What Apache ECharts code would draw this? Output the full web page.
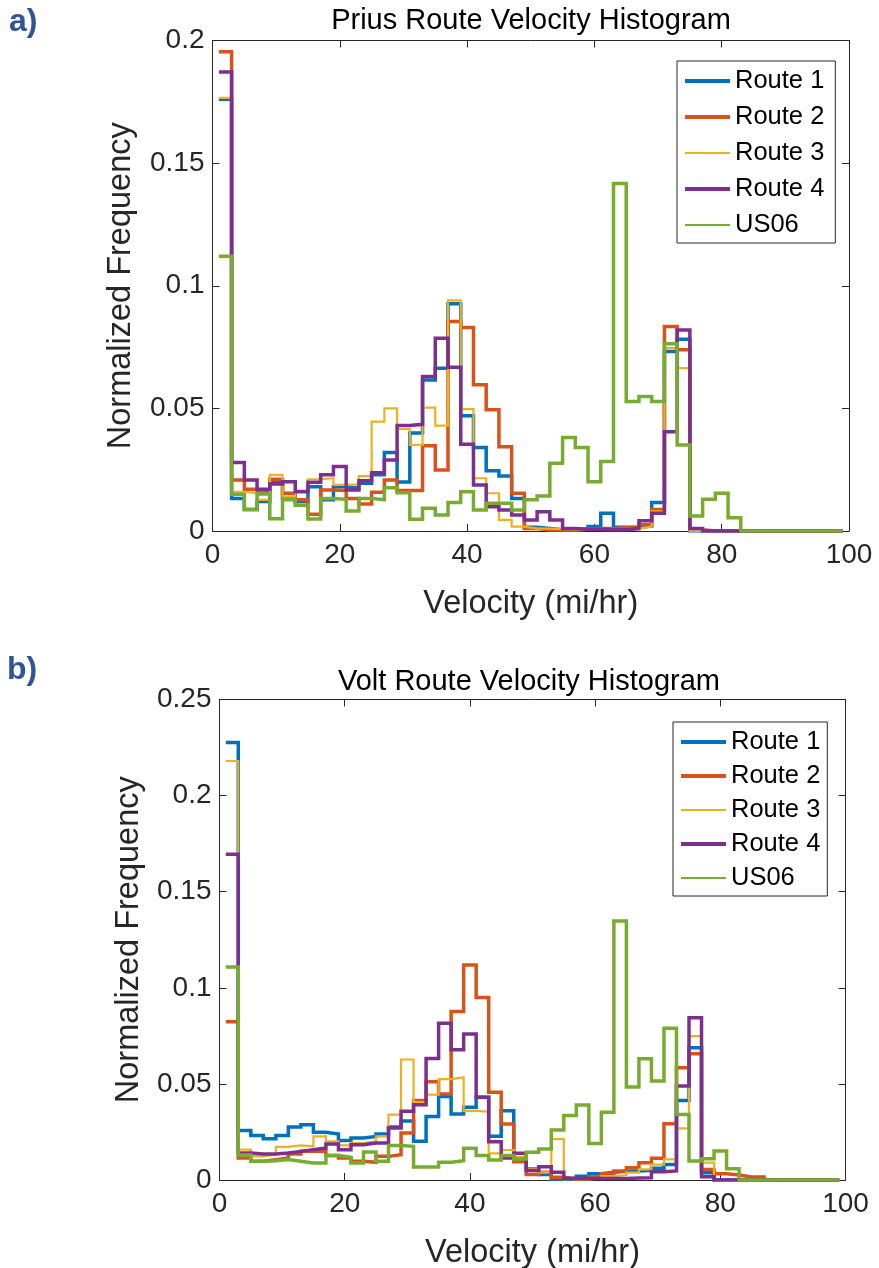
<!DOCTYPE html>
<html>
<head>
<meta charset="utf-8">
<script src="https://cdn.jsdelivr.net/npm/echarts@6/dist/echarts.min.js"></script>
<style>
html,body{margin:0;padding:0;background:#ffffff;}
#c{width:879px;height:1268px;}
</style>
</head>
<body>
<div id="c"></div>
<script>
// ---------- DATA ----------
const binStarts = [1,3,5,7,9,11,13,15,17,19,21,23,25,27,29,31,33,35,37,39,41,43,45,47,49,51,53,55,57,59,61,63,65,67,69,71,73,75,77,79,81,83,85,87,89,91,93,95,97,99];
const seriesNames = ['Route 1','Route 2','Route 3','Route 4','US06'];
const xTicks = [0,20,40,60,80,100];

// Prius (panel a)
const priusRoute1 = [0.176,0.0133,0.0088,0.012,0.0201,0.0133,0.012,0.018,0.0127,0.018,0.0174,0.0195,0.0229,0.032,0.020,0.040,0.0616,0.0664,0.0927,0.047,0.034,0.0246,0.0224,0.0133,0.0015,0.001,0.0005,0.0003,0.0008,0.0018,0.0072,0.0015,0.0015,0.002,0.0116,0.0732,0.0782,0,0,0,0,0,0,0,0,0,0,0,0,0];
const priusRoute2 = [0.1954,0.0208,0.017,0.016,0.0211,0.0154,0.0127,0.0068,0.0167,0.0165,0.0133,0.011,0.0158,0.0208,0.0165,0.0165,0.0348,0.0249,0.0854,0.083,0.0596,0.0494,0.0344,0.0154,0.001,0.0004,0.0004,0.0005,0.0008,0.001,0.001,0.0013,0.0015,0.0025,0.0088,0.0834,0.0739,0.0005,0,0,0,0,0,0,0,0,0,0,0,0];
const priusRoute3 = [0.1766,0.016,0.0154,0.0127,0.0229,0.014,0.0165,0.0211,0.0215,0.0188,0.019,0.0224,0.0446,0.050,0.0416,0.0351,0.0503,0.043,0.094,0.0497,0.0215,0.0154,0.0045,0.0018,0.001,0.001,0.0008,0.0007,0.0008,0.0008,0.0008,0.0008,0.001,0.0018,0.008,0.0746,0.0664,0,0,0,0,0,0,0,0,0,0,0,0,0];
const priusRoute4 = [0.1872,0.0279,0.0208,0.017,0.0192,0.0201,0.016,0.0199,0.0229,0.0263,0.0167,0.0205,0.0238,0.029,0.043,0.0435,0.063,0.0786,0.0668,0.0354,0.0188,0.0099,0.0086,0.0065,0.0045,0.0079,0.0045,0.001,0.0007,0.0007,0.0005,0.0005,0.001,0.0042,0.0072,0.0405,0.082,0.001,0,0,0,0,0,0,0,0,0,0,0,0];
const priusUS06   = [0.112,0.015,0.0088,0.0151,0.005,0.0127,0.0105,0.0049,0.0133,0.0129,0.0082,0.0133,0.0127,0.0176,0.0156,0.0048,0.0093,0.0065,0.0116,0.016,0.0086,0.0113,0.0113,0.0086,0.0127,0.0143,0.0276,0.0381,0.034,0.0201,0.0283,0.1417,0.0528,0.0548,0.0528,0.0763,0.0351,0.0061,0.0129,0.0154,0.0054,0,0,0,0,0,0,0,0,0];

// Volt (panel b)
const voltRoute1 = [0.2276,0.0257,0.0232,0.0215,0.0232,0.0276,0.0288,0.0248,0.0239,0.0205,0.0218,0.0227,0.0239,0.0276,0.0307,0.0201,0.0331,0.0435,0.0343,0.0378,0.043,0.0227,0.036,0.0109,0.0057,0.0028,0.0004,0.0005,0.002,0.0033,0.004,0.0045,0.0047,0.005,0.0061,0.0081,0.0414,0.0688,0.0038,0,0,0,0,0,0,0,0,0,0,0];
const voltRoute2 = [0.0823,0.0114,0.0097,0.0106,0.0114,0.0135,0.0149,0.0149,0.0128,0.0114,0.0097,0.0092,0.0123,0.0132,0.0244,0.0413,0.0511,0.0447,0.0877,0.1118,0.095,0.0456,0.0291,0.0095,0.0028,0.004,0.0014,0.0005,0.0005,0.0016,0.0033,0.0047,0.0064,0.009,0.0113,0.0293,0.0584,0.0657,0.0055,0.0033,0.0026,0.0016,0.0016,0,0,0,0,0,0,0];
const voltRoute3 = [0.218,0.0158,0.0123,0.0132,0.0172,0.018,0.0175,0.0227,0.0201,0.018,0.0192,0.0201,0.0227,0.034,0.0627,0.0405,0.0444,0.0525,0.0534,0.036,0.0355,0.0139,0.0156,0.0121,0.0057,0.004,0.0213,0.0005,0.0003,0.0008,0.002,0.0026,0.0038,0.0055,0.008,0.0107,0.0269,0.0749,0.009,0,0,0,0,0,0,0,0,0,0,0];
const voltRoute4 = [0.1695,0.014,0.0135,0.0135,0.014,0.0149,0.0158,0.0166,0.0187,0.0158,0.0184,0.0192,0.0192,0.027,0.0358,0.0391,0.0632,0.0815,0.0678,0.0759,0.043,0.0199,0.0114,0.0139,0.0049,0.0069,0.004,0.0009,0.0008,0.0008,0.0008,0.0008,0.001,0.0012,0.0043,0.0047,0.0489,0.0844,0.0017,0,0,0,0,0,0,0,0,0,0,0];
const voltUS06   = [0.1108,0.013,0.0097,0.01,0.0106,0.0097,0.0088,0.0088,0.0128,0.0118,0.0088,0.0146,0.0097,0.018,0.0175,0.0068,0.0068,0.0092,0.01,0.0165,0.0127,0.0104,0.0127,0.0109,0.0144,0.0161,0.026,0.0335,0.039,0.019,0.0353,0.1347,0.0484,0.0631,0.0515,0.0789,0.0341,0.0099,0.0111,0.0151,0.0059,0,0,0,0,0,0,0,0,0];

// ---------- STYLE ----------
const FONT = '"Liberation Sans", Arial, Helvetica, sans-serif';
const COLORS = ['#0072BD','#D95319','#EDB120','#7E2F8E','#77AC30'];
const plotWidths = [3.5,3.5,2.2,3.5,3.5];
const legendWidths = [4,4,2.2,4,2];
const AXC = '#262626';

function pairs(vals){ return binStarts.map((x,i)=>[x, vals[i]]); }

function axisBase(gridIndex){
  return {
    gridIndex, type:'value', splitLine:{show:false},
    axisLine:{show:true, onZero:false, lineStyle:{color:AXC, width:1}},
    axisTick:{show:true, inside:true, length:7, lineStyle:{color:AXC, width:1}}
  };
}
const tickLabel = {show:true, color:AXC, fontSize:28, fontFamily:FONT, showMinLabel:true, showMaxLabel:true};
const nameStyle = {fontSize:32.5, color:AXC, fontFamily:FONT};

function xAxes(gridIndex){
  return [
    Object.assign(axisBase(gridIndex), {position:'bottom', min:0, max:100, interval:20,
      axisLabel:Object.assign({margin:10}, tickLabel),
      name:'Velocity (mi/hr)', nameLocation:'middle', nameGap:57, nameTextStyle:nameStyle}),
    Object.assign(axisBase(gridIndex), {position:'top', min:0, max:100, interval:20, axisLabel:{show:false}})
  ];
}
function yAxes(gridIndex, ymax, nameGap){
  return [
    Object.assign(axisBase(gridIndex), {position:'left', min:0, max:ymax, interval:0.05,
      axisLabel:Object.assign({margin:8}, tickLabel),
      name:'Normalized Frequency', nameLocation:'middle', nameGap:nameGap, nameTextStyle:nameStyle}),
    Object.assign(axisBase(gridIndex), {position:'right', min:0, max:ymax, interval:0.05, axisLabel:{show:false}})
  ];
}

function makeSeries(arrs, axisIdx){
  return arrs.map((vals,k)=>({
    name:seriesNames[k], type:'line', step:'end', symbol:'none', showSymbol:false,
    xAxisIndex:axisIdx, yAxisIndex:axisIdx, data:pairs(vals),
    lineStyle:{color:COLORS[k], width:plotWidths[k], join:'miter', cap:'butt'},
    itemStyle:{color:COLORS[k]}, emphasis:{disabled:true}, z:2+k
  }));
}

function makeLegend(left, top, gap, padRight){
  return {
    orient:'vertical', left:left, top:top, padding:[7,padRight,5,6], itemGap:gap,
    itemWidth:45, itemHeight:20, borderColor:AXC, borderWidth:1, backgroundColor:'#ffffff',
    selectedMode:false,
    textStyle:{fontSize:25.5, color:'#000000', fontFamily:FONT},
    data: seriesNames.map((n,k)=>({
      name:n,
      itemStyle:{color:'rgba(0,0,0,0)', borderColor:'rgba(0,0,0,0)', borderWidth:0},
      lineStyle:{color:COLORS[k], width:legendWidths[k]}
    }))
  };
}

const option = {
  animation:false,
  backgroundColor:'#ffffff',
  grid:[
    {left:212.5, top:40.5, width:636.5, height:490.5, outerBoundsMode:'none', containLabel:false},
    {left:219.5, top:699.5, width:626, height:480.5, outerBoundsMode:'none', containLabel:false}
  ],
  xAxis:[...xAxes(0), ...xAxes(1)],
  yAxis:[...yAxes(0, 0.2, 75), ...yAxes(1, 0.25, 74)],
  legend:[makeLegend(677, 61, 10, 11), makeLegend(673, 722, 8, 7)],
  series:[...makeSeries([priusRoute1,priusRoute2,priusRoute3,priusRoute4,priusUS06], 0),
          ...makeSeries([voltRoute1,voltRoute2,voltRoute3,voltRoute4,voltUS06], 2)],
  graphic:[
    {type:'text', x:531, y:21, style:{text:'Prius Route Velocity Histogram', fontSize:29, fontFamily:FONT, fill:'#000', align:'center', verticalAlign:'middle'}},
    {type:'text', x:529, y:682, style:{text:'Volt Route Velocity Histogram', fontSize:29, fontFamily:FONT, fill:'#000', align:'center', verticalAlign:'middle'}},
    {type:'text', x:9, y:22, style:{text:'a)', fontSize:32, fontWeight:'bold', fontFamily:FONT, fill:'#2E5597', align:'left', verticalAlign:'middle'}},
    {type:'text', x:7, y:670, style:{text:'b)', fontSize:32, fontWeight:'bold', fontFamily:FONT, fill:'#2E5597', align:'left', verticalAlign:'middle'}}
  ]
};

const chart = echarts.init(document.getElementById('c'), null, {renderer:'canvas', width:879, height:1268});
chart.setOption(option);
</script>
</body>
</html>
